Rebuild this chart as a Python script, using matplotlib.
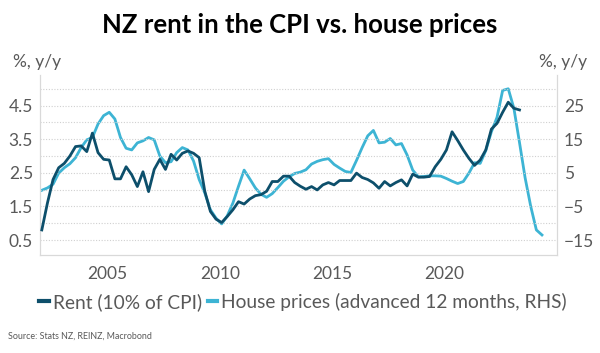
import matplotlib
matplotlib.use("Agg")
import matplotlib.pyplot as plt
import numpy as np

plt.rcParams["font.family"] = ["Lato", "DejaVu Sans"]

# quarterly dates
rent_start = 2002.08
house_start = 2002.08

# Rent, % y/y (left axis)
rent = [0.80, 1.6, 2.3, 2.65, 2.78, 3.0, 3.28, 3.3, 3.13, 3.68, 3.1, 2.9,
        2.88, 2.32, 2.32, 2.68, 2.44, 2.09, 2.53, 1.94, 2.6, 2.9, 2.6, 3.05,
        2.88, 3.08, 3.15, 3.08, 2.95, 1.95, 1.35, 1.12, 1.02, 1.2, 1.4, 1.64,
        1.57, 1.72, 1.82, 1.85, 1.95, 2.24, 2.24, 2.4, 2.4, 2.21, 2.1, 2.01,
        2.09, 1.99, 2.14, 2.21, 2.14, 2.27, 2.27, 2.27, 2.49, 2.36, 2.3, 2.2,
        2.04, 2.24, 2.11, 2.21, 2.29, 2.11, 2.46, 2.37, 2.37, 2.39, 2.68, 2.9,
        3.18, 3.72, 3.46, 3.18, 2.93, 2.72, 2.88, 3.18, 3.8, 3.97, 4.3, 4.6,
        4.42, 4.37]

# House prices advanced 12 months, % y/y (right axis)
house = [-0.2, 0.5, 1.6, 4.9, 6.5, 7.7, 9.5, 12.5, 14.8, 15.5, 19.5, 22.0,
         23.0, 21.0, 15.5, 12.3, 11.8, 13.9, 14.5, 15.5, 14.8, 10.0, 8.0, 8.3,
         11.0, 12.5, 11.8, 8.5, 3.0, -1.0, -6.0, -8.5, -10.2, -7.8, -4.0, 1.0,
         5.8, 3.2, 0.5, -1.4, -2.3, -1.2, 0.6, 2.5, 3.8, 4.8, 5.2, 5.9,
         7.6, 8.4, 8.9, 9.2, 7.5, 6.4, 5.4, 5.1, 8.7, 12.5, 16.0, 17.6,
         13.9, 14.1, 15.2, 13.3, 13.7, 10.3, 5.8, 3.8, 3.9, 4.1, 4.1, 4.0,
         3.3, 2.5, 1.8, 2.4, 4.9, 8.0, 7.8, 11.6, 17.2, 21.5, 29.5, 30.0,
         24.2, 14.0, 3.5, -5.0, -12.0, -13.5]

rent_x = rent_start + 0.25 * np.arange(len(rent))
house_x = house_start + 0.25 * np.arange(len(house))

left_ticks = [0.5, 1.5, 2.5, 3.5, 4.5]
right_ticks = [-15, -5, 5, 15, 25]
year_ticks = [2005, 2010, 2015, 2020]

dark = "#0d4f6b"
light = "#3db4d4"
grey = "#595959"
axis_grey = "#d9d9d9"

fig = plt.figure(figsize=(6, 3.53), dpi=100)
ax = fig.add_axes([0.0667, 0.2776, 0.8617, 0.51])
ax2 = ax.twinx()

ax.set_xlim(2002, 2025)
ax.set_ylim(0.054, 5.41)
ax2.set_ylim(10 * 0.054 - 20, 10 * 5.41 - 20)

# dotted gridlines every 0.5
for g in np.arange(0.5, 5.01, 0.5):
    ax.axhline(g, color="#d0d0d0", lw=0.8, ls=(0, (1, 1.5)), zorder=0)

l1, = ax.plot(rent_x, rent, color=dark, lw=2.0, zorder=3)
l2, = ax2.plot(house_x, house, color=light, lw=2.0, zorder=2)
ax.set_zorder(ax2.get_zorder() + 1)
ax.patch.set_visible(False)

ax.set_yticks(left_ticks)
ax.set_yticklabels([f"{t:.1f}" for t in left_ticks])
ax2.set_yticks(right_ticks)
ax.set_xticks(year_ticks)

for a in (ax, ax2):
    a.tick_params(length=0, labelsize=12.5, labelcolor=grey, pad=5)
    a.spines["top"].set_visible(False)
    for s in ("left", "right", "bottom"):
        a.spines[s].set_color(axis_grey)
        a.spines[s].set_linewidth(0.8)
ax.tick_params(axis="x", pad=8)

fig.text(0.5, 0.93, "NZ rent in the CPI vs. house prices", ha="center",
         va="center", fontsize=18.5, fontweight="bold", color="black")
fig.text(0.022, 0.825, "%, y/y", ha="left", va="center", fontsize=12.5, color=grey)
fig.text(0.978, 0.825, "%, y/y", ha="right", va="center", fontsize=12.5, color=grey)

fig.legend([l1, l2], ["Rent (10% of CPI)", "House prices (advanced 12 months, RHS)"],
           loc="center", bbox_to_anchor=(0.505, 0.145), ncol=2, frameon=False,
           fontsize=13.8, labelcolor=grey, handlelength=0.5, handletextpad=0.2,
           columnspacing=0.3, borderaxespad=0)
for h in fig.legends[0].legend_handles:
    h.set_linewidth(3)

fig.text(0.013, 0.048, "Source: Stats NZ, REINZ, Macrobond", ha="left",
         va="center", fontsize=6.4, color=grey)

fig.savefig("out.png", dpi=100)
